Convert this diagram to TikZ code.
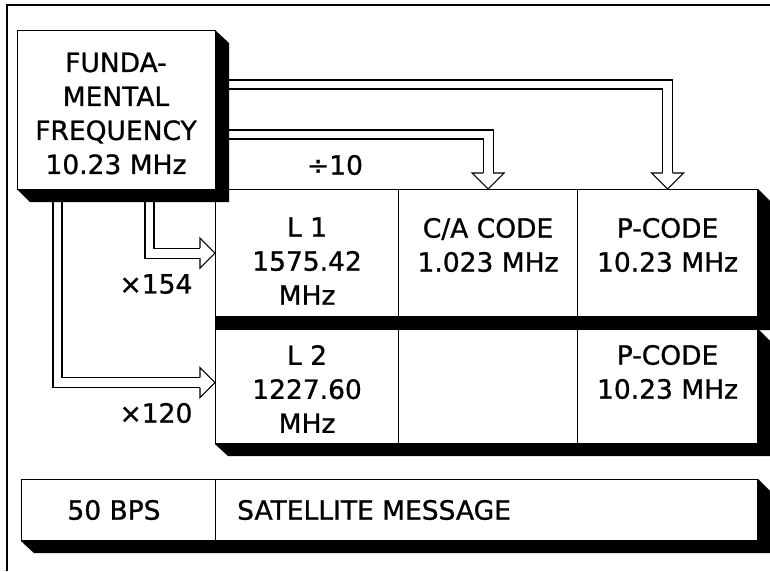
\documentclass[tikz,border=0pt]{standalone}
\usepackage{fontspec}
\setmainfont{DejaVu Sans}
\newfontfamily\medfont{DejaVu Sans}[FakeBold=1]
\usetikzlibrary{calc,backgrounds}
\begin{document}
\begin{tikzpicture}[x=1pt,y=-1pt,
  cell/.style={draw, line width=1.1pt, fill=white, inner sep=0pt, anchor=north west},
  txt/.style={align=center, inner sep=0pt, font=\medfont\fontsize{26.5}{34}\selectfont},
  conn/.style={line width=1.1pt, line join=miter},
  shade/.style={fill=black}]
\useasboundingbox (0,0) rectangle (770,571);
% frame
\draw[line width=1.6pt] (7,571) -- (7,5) -- (770,5);
% table cells
\node[cell, minimum width=183pt, minimum height=127pt] (l1) at (215,189) {};
\node[cell, minimum width=179pt, minimum height=127pt] (ca) at (398,189) {};
\node[cell, minimum width=180pt, minimum height=127pt] (p1) at (577,189) {};
\node[cell, minimum width=183pt, minimum height=114pt] (l2) at (215,329) {};
\node[cell, minimum width=179pt, minimum height=114pt] (em) at (398,329) {};
\node[cell, minimum width=180pt, minimum height=114pt] (p2) at (577,329) {};
\node[cell, minimum width=194pt, minimum height=61pt] (bps) at (21,479) {};
\node[cell, minimum width=542pt, minimum height=61pt] (msg) at (215,479) {};
% shadows (behind the cells)
\begin{scope}[on background layer]
\fill[shade] (p1.north east) -- ++(13,13) -- ($(p1.south east)+(13,13)$) -- ($(l1.south west)+(0,13)$) -- (l1.south west) -- (p1.south east) -- cycle;
\fill[shade] (p2.north east) -- ++(13,13) -- ($(p2.south east)+(13,12)$) -- ($(l2.south west)+(13,12)$) -- (l2.south west) -- (p2.south east) -- cycle;
\fill[shade] (msg.north east) -- ++(13,13) -- ($(msg.south east)+(13,12)$) -- ($(bps.south west)+(13,12)$) -- (bps.south west) -- (msg.south east) -- cycle;
\end{scope}
% connectors (hollow double arrows)
\coordinate (tp) at (p1.north);
\coordinate (tc) at (ca.north);
\coordinate (t1) at (l1.west);
\coordinate (t2) at ($(l2.west)+(0,-4)$);
% to P-code
\draw[conn] (215,80) -| ($(tp)+(5,-16)$);
\draw[conn] (215,89) -| ($(tp)+(-5,-16)$);
\draw[conn] ($(tp)+(-5,-16)$) -- ++(-11,0) -- (tp) -- ($(tp)+(16,-16)$) -- ++(-11,0);
% to C/A code
\draw[conn] (215,130) -| ($(tc)+(5,-16)$);
\draw[conn] (215,139) -| ($(tc)+(-5,-16)$);
\draw[conn] ($(tc)+(-5,-16)$) -- ++(-11,0) -- (tc) -- ($(tc)+(16,-16)$) -- ++(-11,0);
% to L1
\draw[conn] (145,189) |- ($(t1)+(-15,5)$);
\draw[conn] (154,189) |- ($(t1)+(-15,-5)$);
\draw[conn] ($(t1)+(-15,-5)$) -- ++(0,-10) -- (t1) -- ($(t1)+(-15,15)$) -- ++(0,-10);
% to L2
\draw[conn] (53,189) |- ($(t2)+(-15,5)$);
\draw[conn] (62,189) |- ($(t2)+(-15,-5)$);
\draw[conn] ($(t2)+(-15,-5)$) -- ++(0,-10) -- (t2) -- ($(t2)+(-15,15)$) -- ++(0,-10);
% fundamental frequency box
\fill[shade] (215,30) -- ++(14,13) -- (229,202) -- (30,202) -- (17,189) -- cycle;
\node[cell, minimum width=198pt, minimum height=159pt] (fund) at (17,30) {};
% texts
\node[txt] (fundt) at (116,113.5) {FUNDA-\\MENTAL\\FREQUENCY\\10.23 MHz};
\node[txt] (div) at (335,165) {÷10};
\node[txt] (m154) at (156,284) {×154};
\node[txt] (m120) at (156,413) {×120};
\node[txt] (l1t) at ($(l1.north)+(0,72)$) {L 1\\1575.42\\MHz};
\node[txt] (cat) at ($(ca.north)+(0,56)$) {C/A CODE\\1.023 MHz};
\node[txt] (p1t) at ($(p1.north)+(0,56)$) {P-CODE\\10.23 MHz};
\node[txt] (l2t) at ($(l2.north)+(0,60)$) {L 2\\1227.60\\MHz};
\node[txt] (p2t) at ($(p2.north)+(0,43)$) {P-CODE\\10.23 MHz};
\node[txt] (bpst) at (114,510) {50 BPS};
\node[txt, anchor=west] (msgt) at (237,510) {SATELLITE MESSAGE};
\end{tikzpicture}
\end{document}
